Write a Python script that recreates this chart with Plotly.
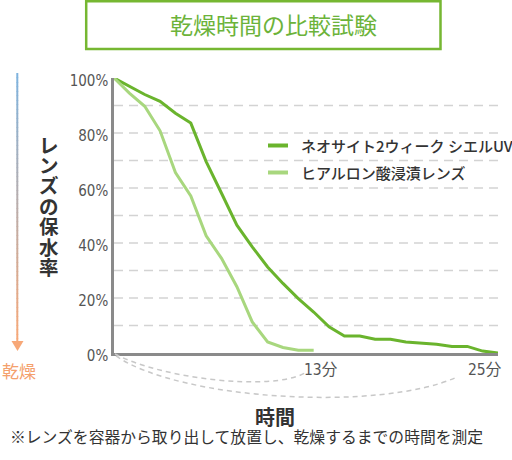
import plotly.graph_objects as go

# ---------------- data ----------------
minutes_neo = list(range(0, 26))
water_neo = [100, 97, 94, 91.5, 87.2, 83.6, 69.6, 58.1, 46.5, 38.6, 31.3, 25.3,
             19.8, 14.9, 9.5, 6.2, 6.2, 5.0, 5.0, 4.0, 3.7, 3.2, 2.4, 2.4, 0.7, 0]
minutes_hya = list(range(0, 14))
water_hya = [100, 94.5, 89.7, 80.8, 65.6, 57.1, 42.6, 34.4, 24.1, 11.3, 4.0, 2.0, 1.0, 1.0]

series_names = ["ネオサイト2ウィーク シエルUV", "ヒアルロン酸浸漬レンズ"]
y_tick_vals = [0, 20, 40, 60, 80, 100]
y_tick_text = ["0%", "20%", "40%", "60%", "80%", "100%"]
grid_vals = [10, 20, 30, 40, 50, 60, 70, 80, 90]
x_label_vals = [13, 25]
x_label_text = ["13分", "25分"]

title_text = "乾燥時間の比較試験"
y_title = "レンズの保水率"
x_title = "時間"
dry_text = "乾燥"
footnote = "※レンズを容器から取り出して放置し、乾燥するまでの時間を測定"

# ---------------- style ----------------
W_, H_ = 512, 460
L, R, T, B = 114, 498, 78, 353
PW, PH = R - L, B - T
DARK = "#6ab42d"
LIGHT = "#a8d77e"
CJK = "Noto Sans CJK JP"
TIGHT = "Liberation Sans, Noto Sans CJK JP"
NUM = "DejaVu Sans Condensed, Noto Sans CJK JP"


def px(x):
    return (x - L) / PW


def py(y):
    return (B - y) / PH


fig = go.Figure()
fig.add_trace(go.Scatter(x=minutes_neo, y=water_neo, mode="lines", name=series_names[0],
                         line=dict(color=DARK, width=3), cliponaxis=False, showlegend=False))
fig.add_trace(go.Scatter(x=minutes_hya, y=water_hya, mode="lines", name=series_names[1],
                         line=dict(color=LIGHT, width=3), cliponaxis=False, showlegend=False))

shapes = []
# dashed grid lines
for g in grid_vals:
    shapes.append(dict(type="line", xref="x", yref="y", x0=0, x1=25, y0=g, y1=g,
                       line=dict(color="#d3d3d3", width=1.5, dash="9px,6px"), layer="below"))
# legend background (covers grid)
shapes.append(dict(type="rect", xref="paper", yref="paper", x0=px(251), x1=px(500),
                   y0=py(184), y1=py(124), fillcolor="white", line=dict(width=0), layer="below"))
# legend samples
for c, yy in [(DARK, 145.5), (LIGHT, 172.5)]:
    shapes.append(dict(type="line", xref="paper", yref="paper", x0=px(268), x1=px(288),
                       y0=py(yy), y1=py(yy), line=dict(color=c, width=4)))
# title box
shapes.append(dict(type="rect", xref="paper", yref="paper", x0=px(86.2), x1=px(440.5),
                   y0=py(49), y1=py(1.2), line=dict(color="#76b732", width=2.5)))


def bez(p0, p1, p2, p3):
    return "M{},{} C{},{} {},{} {},{}".format(px(p0[0]), py(p0[1]), px(p1[0]), py(p1[1]),
                                              px(p2[0]), py(p2[1]), px(p3[0]), py(p3[1]))


shapes.append(dict(type="path", xref="paper", yref="paper",
                   path=bez((115, 354), (160, 378), (270, 392), (305, 373)),
                   line=dict(color="#c8c8c8", width=1.5, dash="5px,4px")))
shapes.append(dict(type="path", xref="paper", yref="paper",
                   path=bez((116, 356), (180, 400), (380, 412), (457, 377)),
                   line=dict(color="#c8c8c8", width=1.5, dash="5px,4px")))

# gradient arrow on the left
top_c = (127, 179, 222)
bot_c = (247, 168, 120)
y_top, y_bot = 73, 343
n = 60
for k in range(n):
    t = k / (n - 1)
    col = "rgb({},{},{})".format(*[round(a + (b - a) * t) for a, b in zip(top_c, bot_c)])
    ya = y_top + (y_bot - y_top) * k / n
    yb = y_top + (y_bot - y_top) * (k + 1) / n + 0.6
    shapes.append(dict(type="line", xref="paper", yref="paper", x0=px(17.3), x1=px(17.3),
                       y0=py(ya), y1=py(yb), line=dict(color=col, width=2)))
shapes.append(dict(type="path", xref="paper", yref="paper",
                   path="M{},{} L{},{} L{},{} Z".format(px(11.5), py(341), px(23.5), py(341),
                                                         px(17.5), py(351)),
                   fillcolor="rgb(247,168,120)", line=dict(width=0)))


def ann(text, x, y, size, color, xanchor="center", weight="normal", family=CJK, **kw):
    d = dict(text=text, xref="paper", yref="paper", x=px(x), y=py(y), showarrow=False,
             xanchor=xanchor, yanchor="middle",
             font=dict(family=family, size=size, color=color, weight=weight))
    d.update(kw)
    return d


annotations = []
annotations.append(ann(title_text, 273.5, 24.5, 23, "#6cb33a"))
# legend texts
for name, yy in zip(series_names, [145, 172]):
    annotations.append(ann(name, 299, yy, 15, "#333333", xanchor="left", weight=500))
# vertical y title (one glyph per row)
for i, ch in enumerate(y_title):
    annotations.append(ann(ch, 48.5, 145.5 + 20.4 * i, 19.5, "#333333", weight="bold",
                           family=TIGHT, borderpad=0))
annotations.append(ann(dry_text, 18.5, 370, 17, "#f4a06c"))
# x labels
for v, txt, sh in zip(x_label_vals, x_label_text, [7.5, -13]):
    annotations.append(dict(text=txt, xref="x", yref="paper", x=v, y=py(370), xshift=sh,
                            xanchor="center", yanchor="middle", showarrow=False,
                            font=dict(family=NUM, size=15.5, color="#555555")))
annotations.append(ann(x_title, 275, 418, 20, "#333333", weight="bold", family=TIGHT, borderpad=0))
annotations.append(ann(footnote, 246.5, 437.5, 15.8, "#333333", family=TIGHT, borderpad=0))

fig.update_layout(
    width=W_, height=H_, autosize=False,
    margin=dict(l=L, r=W_ - R, t=T, b=H_ - B, pad=0),
    paper_bgcolor="white", plot_bgcolor="white",
    shapes=shapes, annotations=annotations, showlegend=False,
    xaxis=dict(range=[0, 25], showgrid=False, zeroline=False, showticklabels=False,
               showline=True, linecolor="#8a8a8a", linewidth=2.5, ticks="", fixedrange=True),
    yaxis=dict(range=[0, 100], showgrid=False, zeroline=False, tickvals=y_tick_vals,
               ticktext=y_tick_text, showline=True, linecolor="#8a8a8a", linewidth=2.5,
               ticks="", ticklabelstandoff=0, ticklabelshift=3,
               tickfont=dict(family=NUM, size=15, color="#555555"), fixedrange=True),
)

fig.write_html("out.html", config={"displayModeBar": False},
               post_script="document.body.style.margin='0';")
